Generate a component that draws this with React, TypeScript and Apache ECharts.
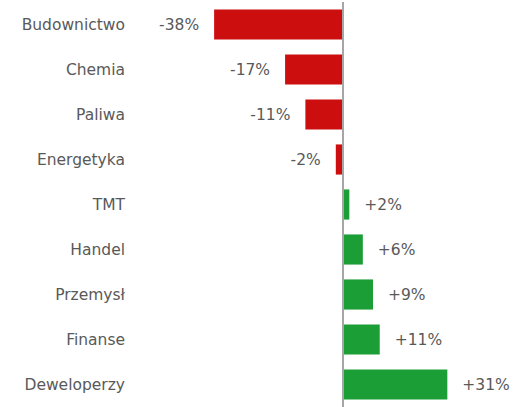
import React, { useEffect, useRef } from "react";
import * as echarts from "echarts";

const categories = ["Budownictwo", "Chemia", "Paliwa", "Energetyka", "TMT", "Handel", "Przemysł", "Finanse", "Deweloperzy"];
const values = [-38, -17, -11, -2, 2, 6, 9, 11, 31];

const RED = "#CC0E0E";
const GREEN = "#1C9E37";
const TEXT = "#595959";
const FONT = "DejaVu Sans";

export default function App() {
  const ref = useRef<HTMLDivElement>(null);
  useEffect(() => {
    if (!ref.current) return;
    const chart = echarts.init(ref.current, undefined, { renderer: "svg" });
    chart.setOption({
      animation: false,
      grid: { left: 133, right: 0, top: 2, height: 409, containLabel: false },
      xAxis: {
        type: "value",
        min: -62,
        max: 52.5,
        show: false,
      },
      yAxis: {
        type: "category",
        data: categories,
        inverse: true,
        axisLine: { show: false },
        axisTick: { show: false },
        splitLine: { show: false },
        axisLabel: { color: TEXT, fontFamily: FONT, fontSize: 15.5, margin: 8 },
      },
      series: [
        {
          type: "bar",
          barCategoryGap: "33%",
          data: values.map((v) => ({
            value: v,
            itemStyle: { color: v < 0 ? RED : GREEN },
            label: {
              show: true,
              position: v < 0 ? "left" : "right",
              distance: 15,
              color: TEXT,
              fontFamily: FONT,
              fontSize: 15.5,
              formatter: () => (v > 0 ? "+" + v + "%" : v + "%"),
            },
          })),
          markLine: {
            silent: true,
            symbol: "none",
            label: { show: false },
            lineStyle: { color: "#A6A6A6", width: 2, type: "solid" },
            data: [{ xAxis: 0 }],
          },
        },
      ],
    });
    return () => chart.dispose();
  }, []);
  return <div ref={ref} style={{ position: "fixed", left: 0, top: 0, width: 520, height: 407, background: "#fff" }} />;
}
